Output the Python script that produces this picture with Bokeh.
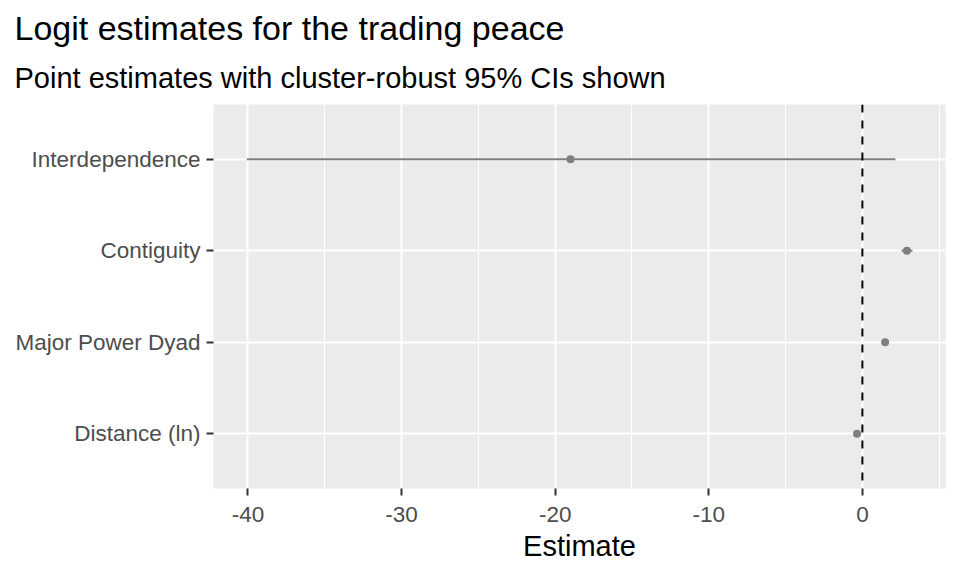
from bokeh.plotting import figure
from bokeh.models import Range1d, FactorRange, Span, Title, SingleIntervalTicker, ColumnDataSource, PrintfTickFormatter
from bokeh.embed import file_html
from bokeh.resources import INLINE

# Data
terms = ["Distance (ln)", "Major Power Dyad", "Contiguity", "Interdependence"]
estimate = [-0.35, 1.48, 2.90, -19.0]
conf_low = [-0.55, 1.30, 2.54, -40.07]
conf_high = [-0.15, 1.66, 3.26, 2.15]

title_text = "Logit estimates for the trading peace"
subtitle_text = "Point estimates with cluster-robust 95% CIs shown"
x_label = "Estimate"

FONT = "Liberation Sans"
GREY = "#7F7F7F"

src = ColumnDataSource(dict(term=terms, est=estimate, lo=conf_low, hi=conf_high))

p = figure(width=960, height=576, output_backend="svg", toolbar_location=None,
           y_range=FactorRange(factors=terms, range_padding=0.1, range_padding_units="absolute"),
           x_range=Range1d(-42.24, 5.41),
           min_border_left=213, min_border_right=15, min_border_top=104, min_border_bottom=88,
           title=None)

p.background_fill_color = "#EBEBEB"
p.border_fill_color = "white"
p.outline_line_color = None

# grid
p.xaxis.ticker = SingleIntervalTicker(interval=10, num_minor_ticks=2)
p.xaxis.formatter = PrintfTickFormatter(format="%d")
p.xgrid.grid_line_color = "white"
p.xgrid.grid_line_width = 2
p.xgrid.minor_grid_line_color = "white"
p.xgrid.minor_grid_line_width = 1
p.ygrid.grid_line_color = "white"
p.ygrid.grid_line_width = 2

# axes
for ax in (p.xaxis[0], p.yaxis[0]):
    ax.axis_line_color = None
    ax.major_tick_line_color = "#333333"
    ax.major_tick_line_width = 2
    ax.major_tick_out = 7
    ax.major_tick_in = 0
    ax.minor_tick_line_color = None
    ax.major_label_text_font = FONT
    ax.major_label_text_font_size = "22.5px"
    ax.major_label_text_color = "#4D4D4D"
    ax.axis_label_text_font = FONT
    ax.axis_label_text_font_size = "29px"
    ax.axis_label_text_font_style = "normal"
    ax.axis_label_text_color = "black"

p.xaxis.major_label_standoff = 11
p.xaxis.axis_label = x_label
p.xaxis.axis_label_standoff = 5
p.yaxis.major_label_standoff = 6

# marks
p.segment(x0="lo", x1="hi", y0="term", y1="term", source=src, line_color=GREY, line_width=2)
p.scatter(x="est", y="term", source=src, size=8, fill_color=GREY, line_color=None)

p.add_layout(Span(location=0, dimension="height", line_color="black", line_width=2, line_dash="8 8"))

# titles
sub = Title(text=subtitle_text, text_font=FONT, text_font_size="29px", text_font_style="normal",
            text_color="black", align="left", offset=-199, standoff=21)
main = Title(text=title_text, text_font=FONT, text_font_size="34px", text_font_style="normal",
             text_color="black", align="left", offset=-199, standoff=6)
p.add_layout(sub, "above")
p.add_layout(main, "above")

open("out.html", "w").write(file_html(p, INLINE))
